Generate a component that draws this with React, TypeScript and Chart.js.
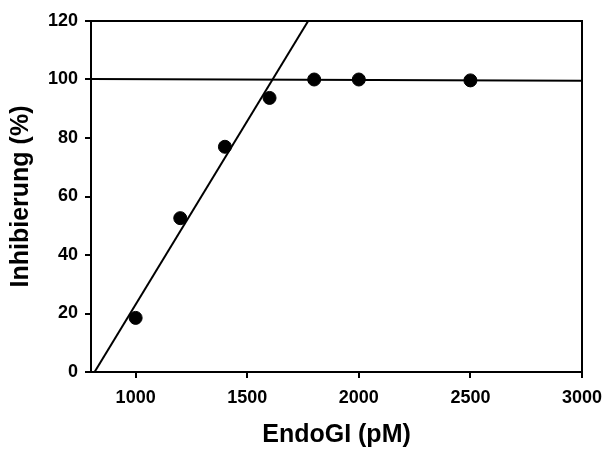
import React, { useEffect, useRef } from "react";
import { Chart, registerables } from "chart.js";

Chart.register(...registerables);

// Measured inhibition vs. EndoGI concentration
const doses = [1000, 1200, 1400, 1600, 1800, 2000, 2500];
const inhibition = [18.5, 52.6, 77, 93.7, 100, 100, 99.7];

// Linear fit through the rising part
const fitX = [816, 1773];
const fitY = [0, 120];

// Plateau line
const plateauX = [800, 3000];
const plateauY = [100.2, 99.6];

const xTicks = [1000, 1500, 2000, 2500, 3000];
const yTicks = [0, 20, 40, 60, 80, 100, 120];

const FONT = "'Liberation Sans', Arial, Helvetica, sans-serif";

const frame = {
  id: "frame",
  afterDatasetsDraw(chart: any) {
    const { ctx, chartArea } = chart;
    ctx.save();
    ctx.strokeStyle = "#000";
    ctx.lineWidth = 2;
    ctx.beginPath();
    ctx.moveTo(chartArea.left, chartArea.top);
    ctx.lineTo(chartArea.right, chartArea.top);
    ctx.lineTo(chartArea.right, chartArea.bottom);
    ctx.stroke();
    ctx.restore();
  },
};

export default function App() {
  const ref = useRef<HTMLCanvasElement>(null);

  useEffect(() => {
    const toPts = (xs: number[], ys: number[]) => xs.map((x, i) => ({ x, y: ys[i] }));
    const chart = new Chart(ref.current!, {
      type: "scatter",
      data: {
        datasets: [
          {
            type: "line",
            data: toPts(fitX, fitY),
            borderColor: "#000",
            borderWidth: 2,
            pointRadius: 0,
            showLine: true,
            fill: false,
          } as any,
          {
            type: "line",
            data: toPts(plateauX, plateauY),
            borderColor: "#000",
            borderWidth: 2,
            pointRadius: 0,
            showLine: true,
            fill: false,
          } as any,
          {
            data: toPts(doses, inhibition),
            backgroundColor: "#000",
            borderColor: "#000",
            pointRadius: 6.5,
            pointHoverRadius: 6.5,
          },
        ],
      },
      options: {
        responsive: false,
        animation: false,
        layout: { padding: { top: 21, right: 20, left: 0, bottom: 0 } },
        plugins: { legend: { display: false }, tooltip: { enabled: false } },
        scales: {
          x: {
            type: "linear",
            min: 800,
            max: 3000,
            afterBuildTicks: (s: any) => {
              s.ticks = xTicks.map((v) => ({ value: v }));
            },
            afterFit: (s: any) => {
              s.height = 78;
              s.paddingLeft = 0;
              s.paddingRight = 0;
            },
            border: { color: "#000", width: 2 },
            grid: { drawOnChartArea: false, drawTicks: true, tickLength: 6, color: "#000", lineWidth: 2 },
            ticks: {
              color: "#000",
              padding: 9,
              font: { family: FONT, size: 18, weight: "bold" },
              callback: (v: any) => String(v),
            },
            title: {
              display: true,
              text: "EndoGI (pM)",
              color: "#000",
              padding: { top: 10, bottom: 0 },
              font: { family: FONT, size: 25, weight: "bold" },
            },
          },
          y: {
            type: "linear",
            min: 0,
            max: 120,
            afterBuildTicks: (s: any) => {
              s.ticks = yTicks.map((v) => ({ value: v }));
            },
            afterFit: (s: any) => {
              s.width = 91;
              s.paddingTop = 0;
              s.paddingBottom = 0;
            },
            border: { color: "#000", width: 2 },
            grid: { drawOnChartArea: false, drawTicks: true, tickLength: 6, color: "#000", lineWidth: 2 },
            ticks: {
              color: "#000",
              padding: 7,
              font: { family: FONT, size: 18, weight: "bold" },
              callback: (v: any) => String(v),
            },
            title: {
              display: true,
              text: "Inhibierung (%)",
              color: "#000",
              padding: { top: 6, bottom: 0 },
              font: { family: FONT, size: 25, weight: "bold" },
            },
          },
        },
      },
      plugins: [frame],
    });
    return () => chart.destroy();
  }, []);

  return (
    <div style={{ position: "fixed", left: 0, top: 0, width: 602, height: 450, background: "#fff" }}>
      <canvas ref={ref} width={602} height={450} />
    </div>
  );
}
